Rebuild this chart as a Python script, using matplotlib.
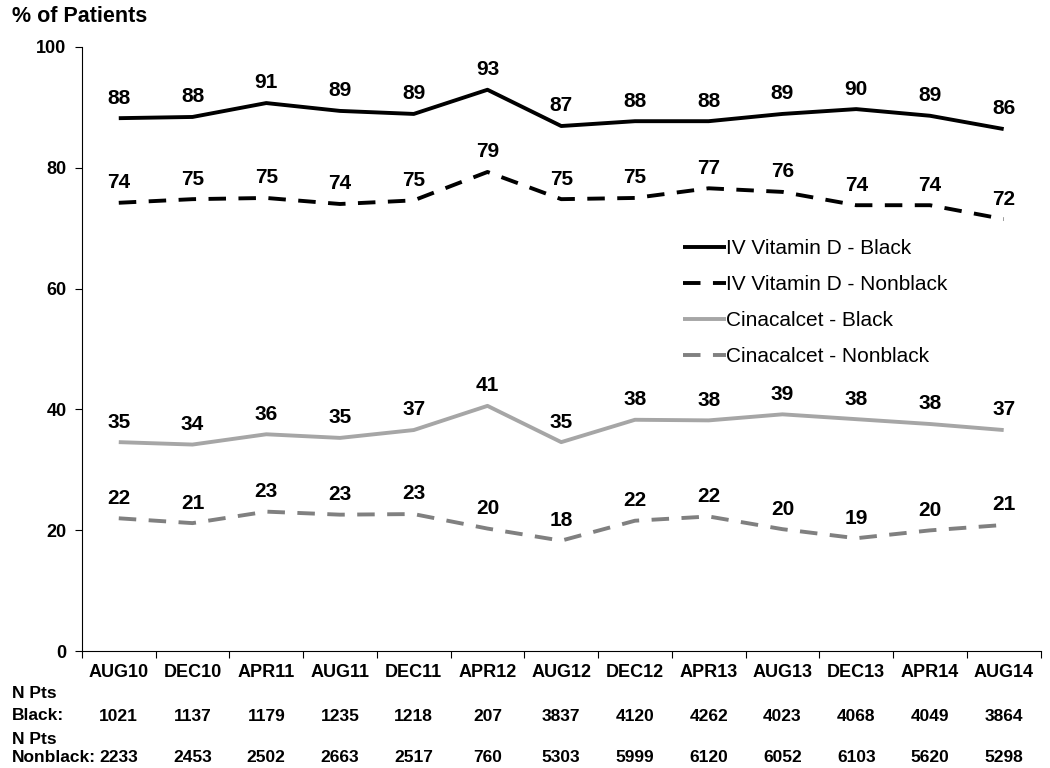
import matplotlib.pyplot as plt
import numpy as np

plt.rcParams['font.family'] = ['Liberation Sans', 'DejaVu Sans']

months = ["AUG10", "DEC10", "APR11", "AUG11", "DEC11", "APR12", "AUG12",
          "DEC12", "APR13", "AUG13", "DEC13", "APR14", "AUG14"]

ivd_black = [88.2, 88.4, 90.7, 89.4, 88.9, 92.9, 86.9, 87.7, 87.7, 88.9, 89.7, 88.6, 86.4]
ivd_nonblack = [74.2, 74.8, 75.0, 74.0, 74.6, 79.3, 74.8, 75.0, 76.6, 76.0, 73.8, 73.8, 71.5]
cin_black = [34.6, 34.2, 35.9, 35.3, 36.6, 40.6, 34.6, 38.3, 38.2, 39.2, 38.4, 37.6, 36.6]
cin_nonblack = [22.0, 21.2, 23.1, 22.6, 22.7, 20.3, 18.3, 21.6, 22.3, 20.2, 18.7, 20.0, 20.9]

n_black = [1021, 1137, 1179, 1235, 1218, 207, 3837, 4120, 4262, 4023, 4068, 4049, 3864]
n_nonblack = [2233, 2453, 2502, 2663, 2517, 760, 5303, 5999, 6120, 6052, 6103, 5620, 5298]

series = [
    ("IV Vitamin D - Black", ivd_black, "black", "-"),
    ("IV Vitamin D - Nonblack", ivd_nonblack, "black", "--"),
    ("Cinacalcet - Black", cin_black, "#a6a6a6", "-"),
    ("Cinacalcet - Nonblack", cin_nonblack, "#808080", "--"),
]

fig = plt.figure(figsize=(10.5, 7.68), dpi=100)
ax = fig.add_axes([0.078, 0.152, 0.913, 0.787])

x = np.arange(len(months))
for name, vals, col, ls in series:
    line, = ax.plot(x, vals, color=col, lw=2.8, ls=ls, label=name,
                    solid_capstyle='butt', dash_capstyle='butt')
    if ls == "--":
        line.set_dashes((4.5, 3.2))
    for xi, v in zip(x, vals):
        ax.annotate(f"{int(v + 0.5)}", (xi, v), xytext=(0, 10.5), textcoords='offset points',
                    ha='center', va='baseline', fontsize=15, fontweight='bold')

ax.set_xlim(-0.5, len(months) - 0.5)
ax.set_ylim(0, 100)
ax.set_yticks([0, 20, 40, 60, 80, 100])
ax.set_xticks(np.arange(len(months) + 1) - 0.5, minor=False)
ax.set_xticklabels([])
ax.tick_params(axis='x', length=5, direction='out')
ax.tick_params(axis='y', length=5, labelsize=13, pad=6)
for t in ax.get_yticklabels():
    t.set_fontweight('bold')
for s in ['top', 'right']:
    ax.spines[s].set_visible(False)

for xi, m in zip(x, months):
    ax.text(xi, -3.5, m, ha='center', va='center', fontsize=13, fontweight='bold')

fs = 12.5
fig.text(0.011, 1 - 694 / 768, "N Pts", ha='left', va='center', fontsize=fs, fontweight='bold')
fig.text(0.011, 1 - 715 / 768, "Black:", ha='left', va='center', fontsize=fs, fontweight='bold')
fig.text(0.011, 1 - 739 / 768, "N Pts", ha='left', va='center', fontsize=fs, fontweight='bold')
fig.text(0.011, 1 - 757 / 768, "Nonblack:", ha='left', va='center', fontsize=fs, fontweight='bold')
for xi, nb, nn in zip(x, n_black, n_nonblack):
    ax.text(xi, -10.8, str(nb), ha='center', va='center', fontsize=fs, fontweight='bold')
    ax.text(xi, -17.5, str(nn), ha='center', va='center', fontsize=fs, fontweight='bold')

fig.text(0.011, 1 - 16 / 768, "% of Patients", ha='left', va='center', fontsize=15.5, fontweight='bold')

ax.legend(loc='upper left', bbox_to_anchor=(0.607, 0.713), frameon=False, fontsize=15,
          handlelength=2.1, handletextpad=0.0, labelspacing=0.82)

fig.savefig("out.png", dpi=100)
